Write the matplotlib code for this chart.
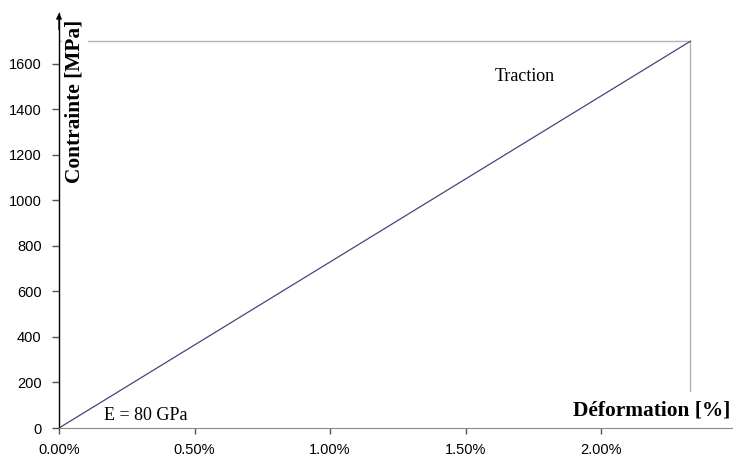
import matplotlib
matplotlib.use("Agg")
import matplotlib.pyplot as plt
from matplotlib.ticker import FuncFormatter

# strain [%] vs stress [MPa]
strain = [0.0, 2.33]
stress = [0.0, 1700.0]
x_ticks = [0.0, 0.5, 1.0, 1.5, 2.0]
y_ticks = [0, 200, 400, 600, 800, 1000, 1200, 1400, 1600]

W, H = 733, 457
fig = plt.figure(figsize=(W / 100, H / 100), dpi=100)
ax = fig.add_axes([59 / W, 29 / H, (W - 59) / W, 415 / H])
ax.set_xlim(0, 2.487)
ax.set_ylim(0, 1824)

# drop lines to the final point
ax.plot([0, strain[-1]], [stress[-1], stress[-1]], color="#b4b4b4", lw=1.0, zorder=1)
ax.plot([strain[-1], strain[-1]], [0, stress[-1]], color="#b4b4b4", lw=1.0, zorder=1)
ax.plot(strain, stress, color="#45457a", lw=0.9, zorder=2)

for s in ["top", "right"]:
    ax.spines[s].set_visible(False)
ax.spines["bottom"].set_color("#8c8c8c")
ax.spines["left"].set_color("black")
ax.spines["left"].set_linewidth(1.0)
# arrow on the y axis
ax.annotate("", xy=(0, 1.0), xytext=(0, 0.96), xycoords="axes fraction",
            arrowprops=dict(arrowstyle="-|>", color="black", lw=1.0,
                            mutation_scale=8, shrinkA=0, shrinkB=0),
            annotation_clip=False)

ax.set_xticks(x_ticks)
ax.set_yticks(y_ticks)
ax.xaxis.set_major_formatter(FuncFormatter(lambda v, p: "{:.2f}%".format(v)))
ax.tick_params(axis="x", direction="out", length=4, width=1, color="#555555",
               pad=6.5, labelsize=10.5)
ax.tick_params(axis="y", direction="out", length=5, width=1, color="#555555",
               pad=7.5, labelsize=10.5)
for lab in ax.get_xticklabels() + ax.get_yticklabels():
    lab.set_family("Liberation Sans")

serif = "Liberation Serif"
box = dict(facecolor="white", edgecolor="none", pad=2)
ax.text(0.059, 1437, "Contrainte [MPa]", rotation=90, ha="center", va="center",
        fontsize=15.4, fontweight="bold", family=serif, bbox=box, zorder=1.5)
ax.text(2.476, 79, "Déformation [%]", ha="right", va="center",
        fontsize=15.4, fontweight="bold", family=serif,
        bbox=dict(facecolor="white", edgecolor="none", pad=6), zorder=1.5)
ax.text(1.609, 1547, "Traction", ha="left", va="center", fontsize=13, family=serif)
ax.text(0.166, 57, "E = 80 GPa", ha="left", va="center", fontsize=13, family=serif)

fig.savefig("out.png", dpi=100)
